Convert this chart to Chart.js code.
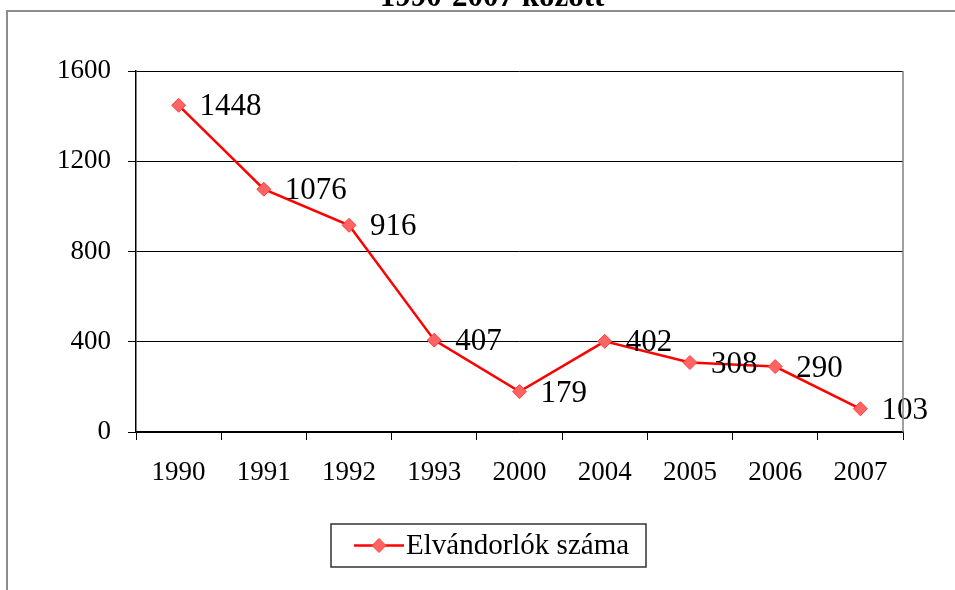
<!DOCTYPE html>
<html>
<head>
<meta charset="utf-8">
<script src="https://cdn.jsdelivr.net/npm/chart.js@4.4.1/dist/chart.umd.min.js"></script>
<style>
    html, body { margin: 0; padding: 0; background: #fff; }
    #wrap { width: 955px; height: 590px; }
</style>
</head>
<body>
<div id="wrap"><canvas id="migrationChart" width="955" height="590"></canvas></div>
<script>
// Elvándorlók száma 1990-2007 között

const years = ['1990', '1991', '1992', '1993', '2000', '2004', '2005', '2006', '2007'];
const migrants = [1448, 1076, 916, 407, 179, 402, 308, 290, 103];
const yTicks = [0, 400, 800, 1200, 1600];
const seriesLabel = 'Elvándorlók száma';
const titleText = '1990-2007 között';

const FONT = '"Liberation Serif", "Times New Roman", serif';
const LINE_RED = '#ff0000';
const MARKER_FILL = '#ff6464';
const MARKER_EDGE = '#ff4040';

/**
 * Outer frame and the clipped title above it
 */
const framePlugin = {
    id: 'frame',
    beforeDraw(chart) {
        const ctx = chart.ctx;
        ctx.save();
        ctx.fillStyle = '#fff';
        ctx.fillRect(0, 0, chart.width, chart.height);
        ctx.strokeStyle = '#8c8c8c';
        ctx.lineWidth = 2;
        ctx.beginPath();
        ctx.moveTo(7, chart.height);
        ctx.lineTo(7, 11);
        ctx.lineTo(chart.width, 11);
        ctx.stroke();

        ctx.fillStyle = '#000';
        ctx.font = 'bold 31px ' + FONT;
        ctx.textAlign = 'center';
        ctx.textBaseline = 'alphabetic';
        ctx.fillText(titleText, 492, 6);
        ctx.restore();
    },
    afterDraw(chart) {
        // grey right edge of the plot area
        const a = chart.chartArea;
        const ctx = chart.ctx;
        ctx.save();
        ctx.strokeStyle = '#808080';
        ctx.lineWidth = 1.5;
        ctx.beginPath();
        ctx.moveTo(a.right, a.top);
        ctx.lineTo(a.right, a.bottom);
        ctx.stroke();
        ctx.restore();
    }
};

/**
 * Value labels to the right of each point
 */
const valueLabelPlugin = {
    id: 'valueLabels',
    afterDatasetsDraw(chart) {
        const ctx = chart.ctx;
        const meta = chart.getDatasetMeta(0);
        ctx.save();
        ctx.fillStyle = '#000';
        ctx.font = '31px ' + FONT;
        ctx.textAlign = 'left';
        ctx.textBaseline = 'middle';
        meta.data.forEach((pt, i) => {
            ctx.fillText(String(migrants[i]), pt.x + 21, pt.y + 2);
        });
        ctx.restore();
    }
};

/**
 * Boxed legend under the axis
 */
const legendBoxPlugin = {
    id: 'legendBox',
    afterDraw(chart) {
        const ctx = chart.ctx;
        const box = { x: 331, y: 524, w: 315, h: 43 };
        const cy = box.y + box.h / 2;
        ctx.save();
        ctx.strokeStyle = '#333';
        ctx.lineWidth = 1.5;
        ctx.strokeRect(box.x, box.y, box.w, box.h);

        ctx.strokeStyle = LINE_RED;
        ctx.lineWidth = 2.5;
        ctx.beginPath();
        ctx.moveTo(354, cy);
        ctx.lineTo(404, cy);
        ctx.stroke();

        ctx.fillStyle = MARKER_FILL;
        ctx.strokeStyle = MARKER_EDGE;
        ctx.lineWidth = 1;
        ctx.beginPath();
        ctx.moveTo(379, cy - 7);
        ctx.lineTo(386, cy);
        ctx.lineTo(379, cy + 7);
        ctx.lineTo(372, cy);
        ctx.closePath();
        ctx.fill();
        ctx.stroke();

        ctx.fillStyle = '#000';
        ctx.font = '29px ' + FONT;
        ctx.textAlign = 'left';
        ctx.textBaseline = 'middle';
        ctx.fillText(seriesLabel, 406, cy + 1);
        ctx.restore();
    }
};

function initMigrationChart() {
    const ctx = document.getElementById('migrationChart');
    if (!ctx) return;

    const data = {
        labels: years,
        datasets: [{
            label: seriesLabel,
            data: migrants,
            borderColor: LINE_RED,
            borderWidth: 2.5,
            tension: 0,
            pointStyle: 'rectRot',
            pointRadius: 7,
            pointHoverRadius: 7,
            pointBackgroundColor: MARKER_FILL,
            pointBorderColor: MARKER_EDGE,
            pointBorderWidth: 1
        }]
    };

    const options = {
        responsive: false,
        animation: false,
        layout: {
            padding: { left: 0, top: 71, right: 52, bottom: 0 }
        },
        plugins: {
            legend: { display: false },
            title: { display: false },
            tooltip: { enabled: false }
        },
        scales: {
            x: {
                type: 'category',
                offset: true,
                afterFit: function(scale) { scale.height = 590 - 71 - 361; },
                border: { color: '#000', width: 1.5 },
                grid: {
                    offset: true,
                    drawOnChartArea: false,
                    drawTicks: true,
                    tickLength: 8,
                    color: '#000'
                },
                ticks: {
                    color: '#000',
                    padding: 17,
                    maxRotation: 0,
                    font: { family: FONT, size: 27 }
                }
            },
            y: {
                min: yTicks[0],
                max: yTicks[yTicks.length - 1],
                afterFit: function(scale) { scale.width = 136; },
                afterBuildTicks: function(scale) {
                    scale.ticks = yTicks.map(v => ({ value: v }));
                },
                border: { color: '#000', width: 1.5 },
                grid: {
                    color: '#000',
                    lineWidth: 1,
                    drawTicks: true,
                    tickLength: 8
                },
                ticks: {
                    color: '#000',
                    padding: 17,
                    font: { family: FONT, size: 27 },
                    callback: function(value) {
                        return String(value);
                    }
                }
            }
        }
    };

    window.charts = window.charts || {};
    window.charts.migration = new Chart(ctx, {
        type: 'line',
        data: data,
        options: options,
        plugins: [framePlugin, valueLabelPlugin, legendBoxPlugin]
    });
}

document.addEventListener('DOMContentLoaded', initMigrationChart);
</script>
</body>
</html>
